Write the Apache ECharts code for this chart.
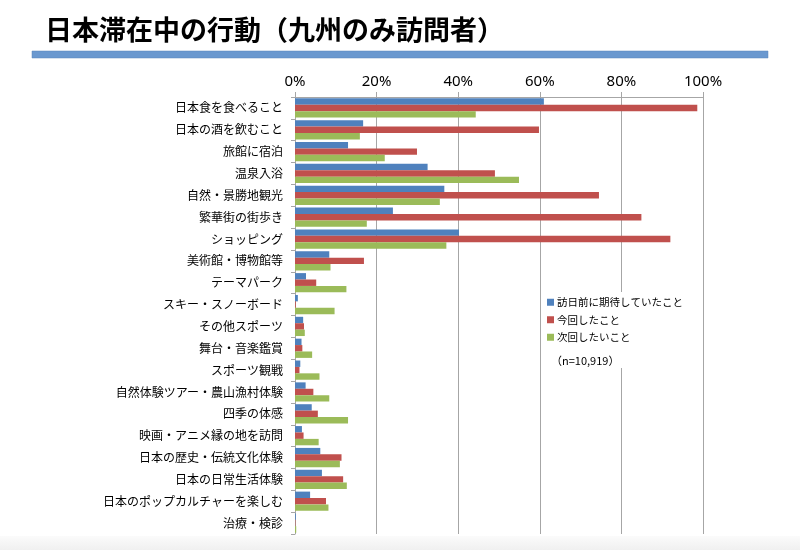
<!DOCTYPE html>
<html>
<head>
<meta charset="utf-8">
<script src="https://cdn.jsdelivr.net/npm/echarts@6/dist/echarts.min.js"></script>
<style>html,body{margin:0;padding:0;background:#fff;}#c{width:800px;height:550px;}</style>
</head>
<body>
<div id="c"></div>
<script>
const categories = ['日本食を食べること','日本の酒を飲むこと','旅館に宿泊','温泉入浴','自然・景勝地観光','繁華街の街歩き','ショッピング','美術館・博物館等','テーマパーク','スキー・スノーボード','その他スポーツ','舞台・音楽鑑賞','スポーツ観戦','自然体験ツアー・農山漁村体験','四季の体感','映画・アニメ縁の地を訪問','日本の歴史・伝統文化体験','日本の日常生活体験','日本のポップカルチャーを楽しむ','治療・検診'];
const seriesNames = ['訪日前に期待していたこと','今回したこと','次回したいこと'];
const expected = [61.0,16.7,13.0,32.5,36.6,24.0,40.2,8.4,2.7,0.7,2.0,1.6,1.3,2.6,4.1,1.7,6.2,6.6,3.7,0.2];
const done     = [98.6,59.8,29.9,49.0,74.5,84.9,92.0,16.9,5.2,0.2,2.2,1.8,1.1,4.5,5.6,2.1,11.4,11.8,7.6,0.1];
const nextTime = [44.3,15.9,22.0,54.9,35.5,17.6,37.1,8.7,12.6,9.7,2.4,4.2,6.0,8.4,13.0,5.8,11.0,12.7,8.2,0.3];
const colors = ['#4f81bd','#c0504d','#9bbb59'];
const titleText = '日本滞在中の行動（九州のみ訪問者）';
const noteText = '（n=10,919）';

const chart = echarts.init(document.getElementById('c'));
const jp = '"Noto Sans CJK JP", "Noto Sans", sans-serif';
chart.setOption({
  animation: false,
  backgroundColor: '#fff',
  textStyle: { fontFamily: jp },
  title: {
    text: titleText, left: 40, top: 11,
    textStyle: { fontSize: 27, fontWeight: 'bold', color: '#000', fontFamily: jp }
  },
  graphic: [
    { type: 'rect', shape: { x: 32, y: 51, width: 736, height: 7 }, style: { fill: '#6a98cf', stroke: '#5b87bb', lineWidth: 0.5 }, z: 10 },
    { type: 'rect', shape: { x: 0, y: 536, width: 800, height: 14 }, style: { fill: new echarts.graphic.LinearGradient(0,0,0,1,[{offset:0,color:'#fbfbfb'},{offset:1,color:'#f0f0f0'}]) }, z: 10 },
    { type: 'rect', shape: { x: 544, y: 292, width: 148, height: 76 }, style: { fill: '#fff' }, z: 3 },
    { type: 'text', x: 551, y: 355, style: { text: noteText, font: '11px ' + jp, fill: '#000' }, z: 5 }
  ],
  legend: {
    orient: 'vertical', left: 542, top: 292,
    itemWidth: 7, itemHeight: 7, itemGap: 7,
    icon: 'rect',
    textStyle: { fontSize: 10.5, color: '#000', fontFamily: jp, padding: [0,0,0,-2] },
    data: seriesNames
  },
  grid: { left: 295, right: 97, top: 97, bottom: 16, containLabel: false },
  xAxis: {
    type: 'value', position: 'top', min: 0, max: 100, interval: 20,
    axisLabel: { formatter: '{value}%', fontSize: 15, color: '#000', fontFamily: '"Noto Sans", sans-serif', margin: 8 },
    axisLine: { show: true, lineStyle: { color: '#a6a6a6' } },
    axisTick: { show: true, length: 5, lineStyle: { color: '#a6a6a6' } },
    splitLine: { show: true, lineStyle: { color: '#a6a6a6', width: 1 } }
  },
  yAxis: {
    type: 'category', inverse: true, data: categories,
    axisLabel: { fontSize: 12, color: '#000', margin: 12, fontFamily: jp },
    axisLine: { show: true, lineStyle: { color: '#a6a6a6' } },
    axisTick: { show: true, length: 4, lineStyle: { color: '#a6a6a6' } }
  },
  series: [
    { name: seriesNames[0], type: 'bar', data: expected, itemStyle: { color: colors[0] }, barGap: '0%', barCategoryGap: '12%' },
    { name: seriesNames[1], type: 'bar', data: done, itemStyle: { color: colors[1] }, barGap: '0%', barCategoryGap: '12%' },
    { name: seriesNames[2], type: 'bar', data: nextTime, itemStyle: { color: colors[2] }, barGap: '0%', barCategoryGap: '12%' }
  ]
});
</script>
</body>
</html>
